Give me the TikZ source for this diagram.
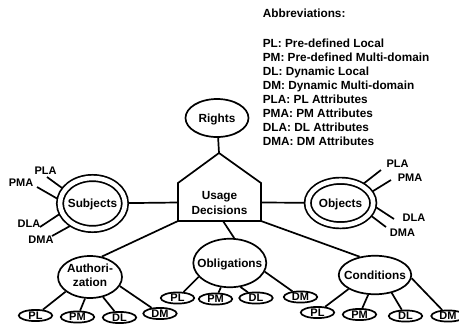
\documentclass[tikz,border=0pt]{standalone}
\usepackage{fontspec}
\setmainfont{Liberation Sans}
\usetikzlibrary{shapes.geometric}
\begin{document}
\begin{tikzpicture}[x=1pt,y=-1pt,line width=1.7pt,
  every node/.style={inner sep=0pt},
  lbl/.style={font=\fontsize{11.8}{14}\selectfont\bfseries},
  oval/.style={ellipse,draw,lbl,text height=8.4pt,text depth=0pt},
  dbl/.style={oval,double,double distance=4.6pt,outer sep=3.5pt},
  leaf/.style={ellipse,draw,minimum width=33.5pt,minimum height=11pt,font=\fontsize{11}{13}\selectfont\bfseries,text height=7.9pt,text depth=0pt},
  attr/.style={font=\fontsize{11}{13}\selectfont\bfseries,text height=7.9pt,text depth=0pt},
  abbr/.style={font=\fontsize{11.8}{14}\selectfont\bfseries,anchor=base west},
]
\useasboundingbox (0,0) rectangle (459,327);

% abbreviations
\node[abbr] (ab0) at (262,17.7) {Abbreviations:};
\node[abbr] (ab1) at (262,47.2) {PL: Pre-defined Local};
\node[abbr] (ab2) at (262,61.2) {PM: Pre-defined Multi-domain};
\node[abbr] (ab3) at (262,75.2) {DL: Dynamic Local};
\node[abbr] (ab4) at (262,89.2) {DM: Dynamic Multi-domain};
\node[abbr] (ab5) at (262,103.2) {PLA: PL Attributes};
\node[abbr] (ab6) at (262,117.2) {PMA: PM Attributes};
\node[abbr] (ab7) at (262,131.2) {DLA: DL Attributes};
\node[abbr] (ab8) at (262,145.2) {DMA: DM Attributes};

% central pentagon
\coordinate (apex) at (219,153);
\coordinate (shl) at (178,183);
\coordinate (shr) at (261,183);
\coordinate (bl) at (178,221);
\coordinate (br) at (261,221);
\coordinate (udl) at (178,202.5);
\coordinate (udr) at (261,202.5);
\coordinate (udb) at (223,221);
\draw (bl) -- (shl) -- (apex) -- (shr) -- (br) -- cycle;
\node[lbl,font=\fontsize{11.8}{15}\selectfont\bfseries,align=center] (ud) at (219.5,202.5) {Usage\\Decisions};

% main ovals
\node[oval,minimum width=63pt,minimum height=38pt] (rights) at (217,118) {\makebox[0pt]{Rights}};
\node[dbl,minimum width=65pt,minimum height=51pt] (subj) at (92.5,203.5) {\makebox[0pt]{Subjects}};
\node[dbl,minimum width=65.5pt,minimum height=44.5pt] (obj) at (340.5,203) {\makebox[0pt]{Objects}};
\node[ellipse,draw,lbl,minimum width=64pt,minimum height=42pt] (auth) at (90,277) {\makebox[0pt]{\begin{tabular}{@{}c@{}}Authori-\\zation\end{tabular}}};
\node[oval,minimum width=73pt,minimum height=48.5pt] (obl) at (229.8,263) {\makebox[0pt]{Obligations}};
\node[oval,minimum width=72.5pt,minimum height=38.5pt] (cond) at (375,275) {\makebox[0pt]{Conditions}};

% leaves
\node[leaf] (a-pl) at (35.5,315.5) {PL};
\node[leaf] (a-pm) at (77.5,317) {PM};
\node[leaf] (a-dl) at (119.5,317.5) {DL};
\node[leaf] (a-dm) at (160,313.5) {DM};
\node[leaf] (o-pl) at (177.5,298) {PL};
\node[leaf] (o-pm) at (215.5,299) {PM};
\node[leaf] (o-dl) at (256,298) {DL};
\node[leaf] (o-dm) at (300.5,297) {DM};
\node[leaf] (c-pl) at (317.5,312.5) {PL};
\node[leaf] (c-pm) at (359.5,314.5) {PM};
\node[leaf] (c-dl) at (405.5,316) {DL};
\node[leaf] (c-dm) at (448,316) {DM};

% attribute labels
\node[attr] (s-pla) at (45.5,171) {PLA};
\node[attr] (s-pma) at (21,183) {PMA};
\node[attr] (s-dla) at (29,224) {DLA};
\node[attr] (s-dma) at (41,240) {DMA};
\node[attr] (r-pla) at (397.5,164) {PLA};
\node[attr] (r-pma) at (410,178) {PMA};
\node[attr] (r-dla) at (414,218) {DLA};
\node[attr] (r-dma) at (402.5,233) {DMA};
\coordinate (s1) at (47,177);
\coordinate (s2) at (37,187);
\coordinate (s3) at (40,227);
\coordinate (s4) at (52,236);
\coordinate (r1) at (381,170);
\coordinate (r2) at (391,180);
\coordinate (r3) at (394,219);
\coordinate (r4) at (386,227);

% connectors
\draw (rights) -- (apex);
\draw (subj) -- (udl);
\draw (obj) -- (udr);
\draw (auth.60) -- (bl);
\draw (udb) -- (obl.80);
\draw (cond.130) -- (br);

\draw (auth.211) -- (a-pl);
\draw (auth.257) -- (a-pm);
\draw (auth.303) -- (a-dl);
\draw (auth.343) -- (a-dm);
\draw (obl.204) -- (o-pl);
\draw (obl.250) -- (o-pm);
\draw (obl.294) -- (o-dl);
\draw (obl.346) -- (o-dm);
\draw (cond.208) -- (c-pl);
\draw (cond.251) -- (c-pm);
\draw (cond.313) -- (c-dl);
\draw (cond.355) -- (c-dm);

\draw (subj.153) -- (s1);
\draw (subj.172) -- (s2);
\draw (subj.198) -- (s3);
\draw (subj.225) -- (s4);
\draw (obj.40) -- (r1);
\draw (obj.20) -- (r2);
\draw (obj.353) -- (r3);
\draw (obj.337) -- (r4);
\end{tikzpicture}
\end{document}
